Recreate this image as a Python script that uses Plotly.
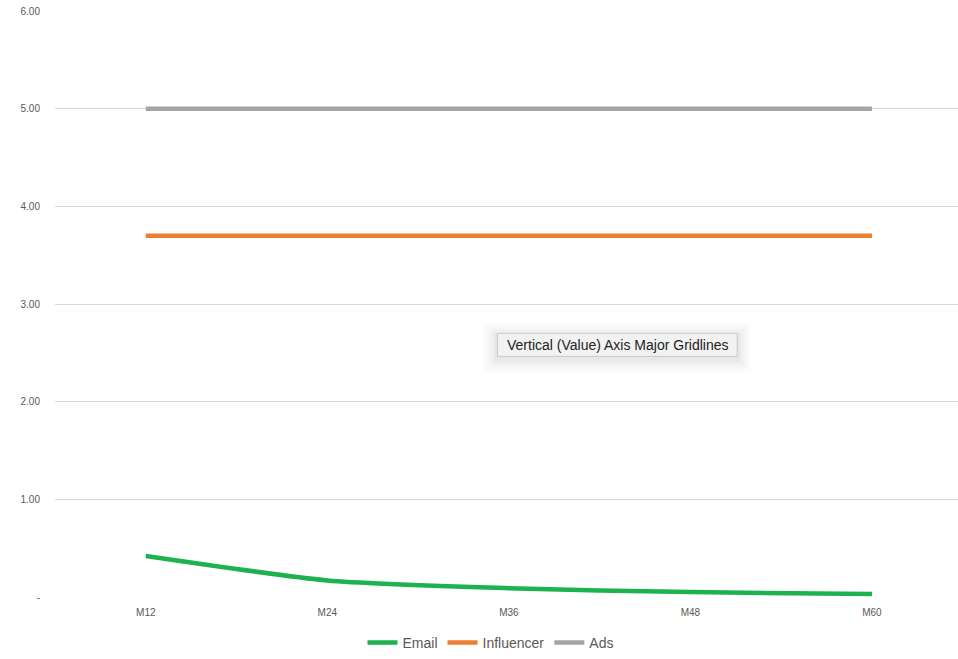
import plotly.graph_objects as go

# Category labels (months) and series values
months = ["M12", "M24", "M36", "M48", "M60"]
email = [0.42, 0.17, 0.09, 0.05, 0.03]
influencer = [3.70, 3.70, 3.70, 3.70, 3.70]
ads = [5.00, 5.00, 5.00, 5.00, 5.00]

tick_vals = [0, 1, 2, 3, 4, 5, 6]
tick_text = ["-", "1.00", "2.00", "3.00", "4.00", "5.00", "6.00"]

series = [
    ("Email", email, "#1db14f"),
    ("Influencer", influencer, "#ed7d31"),
    ("Ads", ads, "#a5a5a5"),
]

fig = go.Figure()
for name, vals, color in series:
    fig.add_trace(go.Scatter(
        x=list(range(len(months))), y=vals, name=name, mode="lines",
        line=dict(color=color, width=4.5, shape="spline", smoothing=0.6),
    ))

fig.update_layout(
    width=958, height=659,
    margin=dict(l=55, r=0, t=11, b=62),
    paper_bgcolor="white", plot_bgcolor="white",
    font=dict(family="Liberation Sans, Arial, sans-serif", color="#595959"),
    showlegend=True,
    legend=dict(
        orientation="h", xref="container", yref="container",
        x=0.512, y=0.0, xanchor="center", yanchor="bottom",
        font=dict(size=14, color="#595959"), itemwidth=30,
        tracegroupgap=0,
    ),
    xaxis=dict(
        tickmode="array", tickvals=list(range(len(months))), ticktext=months,
        range=[-0.5, 4.474], showgrid=False, zeroline=False,
        showline=False, ticks="", tickfont=dict(size=10, color="#595959"),
        ticklabelstandoff=8,
    ),
    yaxis=dict(
        range=[0, 6], tickmode="array", tickvals=tick_vals, ticktext=tick_text,
        showgrid=True, gridcolor="#d9d9d9", gridwidth=1, zeroline=False,
        showline=False, ticks="", tickfont=dict(size=10, color="#595959"),
        ticklabelstandoff=14,
    ),
)

# hover tooltip box with a soft drop shadow
box_x0, box_x1, box_y0, box_y1 = 1.937, 3.258, 2.464, 2.70
for i, alpha in enumerate([0.012, 0.018, 0.025, 0.035]):
    pad_x = (4 - i) * 0.02
    pad_y = (4 - i) * 0.035
    fig.add_shape(type="rect", xref="x", yref="y", layer="above",
                  x0=box_x0 - pad_x, x1=box_x1 + pad_x,
                  y0=box_y0 - pad_y - 0.03, y1=box_y1 + pad_y - 0.03,
                  fillcolor=f"rgba(0,0,0,{alpha})", line=dict(width=0))
fig.add_shape(type="rect", xref="x", yref="y", layer="above",
              x0=box_x0, x1=box_x1, y0=box_y0, y1=box_y1,
              fillcolor="#f2f2f2", line=dict(color="#c8c8c8", width=1))
fig.add_annotation(
    x=(box_x0 + box_x1) / 2, y=(box_y0 + box_y1) / 2, xref="x", yref="y",
    text="Vertical (Value) Axis Major Gridlines", showarrow=False,
    font=dict(family="Liberation Sans, Arial, sans-serif", size=14, color="#222222"),
)

fig.write_html("out.html")
